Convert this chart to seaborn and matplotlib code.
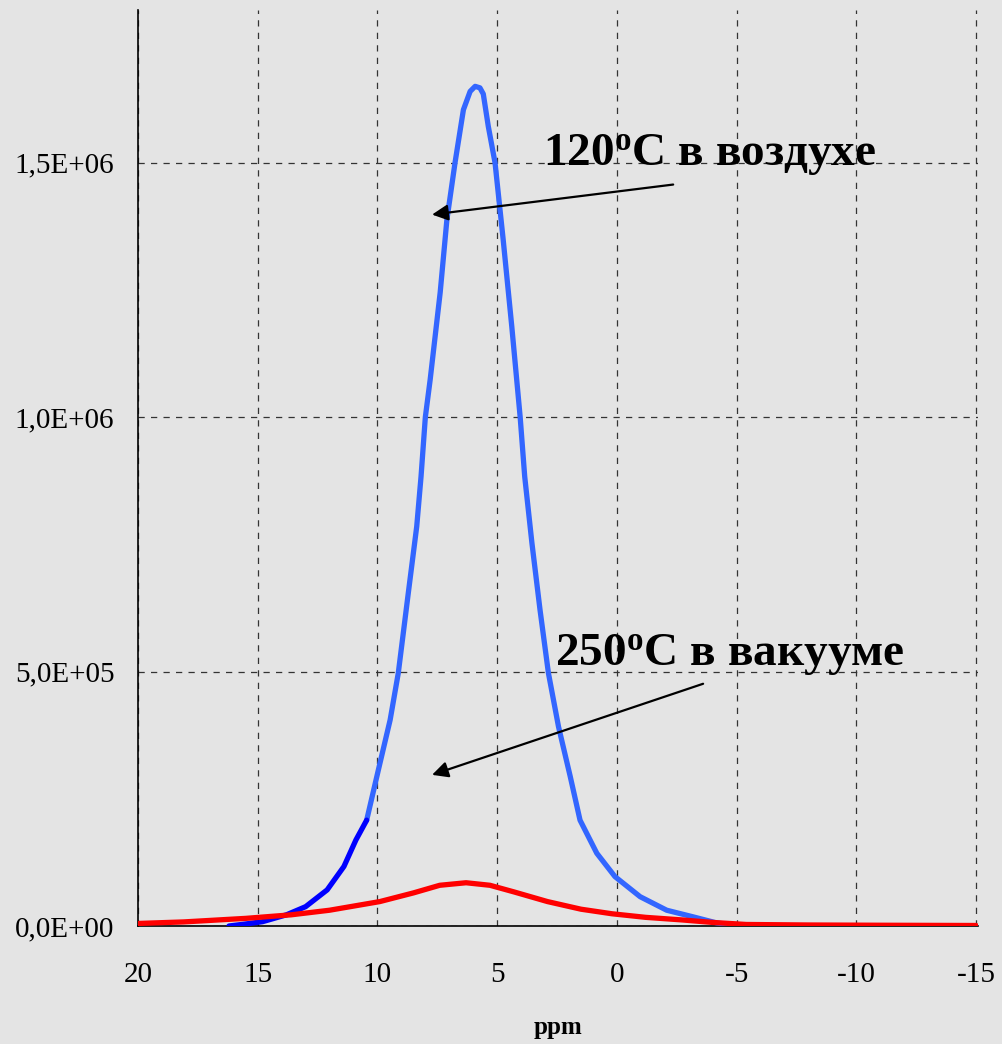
import matplotlib
matplotlib.use("Agg")
import matplotlib.pyplot as plt
import seaborn as sns
import pandas as pd

# ---- data ----
blue_dark_ppm = [16.2, 15.5, 14.8, 13.8, 13.0, 12.1, 11.4, 10.9, 10.45]
blue_dark_val = [0, 4e3, 8.5e3, 2.2e4, 3.8e4, 7.1e4, 1.17e5, 1.69e5, 2.08e5]

blue_ppm = [10.45, 9.96, 9.47, 9.13, 8.71, 8.36, 8.18, 8.0, 7.8, 7.38, 7.1, 6.76,
            6.41, 6.13, 5.92, 5.72, 5.58, 5.37, 5.09, 4.75, 4.39, 4.04, 3.85, 3.55,
            3.21, 2.86, 2.44, 1.95, 1.54, 0.84, 0.08, -0.97, -2.08, -3.18,
            -4.17, -5.15]
blue_val = [2.08e5, 3.07e5, 4.05e5, 4.97e5, 6.55e5, 7.85e5, 8.83e5, 1.0e6,
            1.073e6, 1.245e6, 1.388e6, 1.5e6, 1.604e6, 1.64e6, 1.65e6, 1.647e6,
            1.635e6, 1.571e6, 1.5e6, 1.349e6, 1.178e6, 1.0e6, 8.83e5, 7.53e5,
            6.21e5, 4.97e5, 3.92e5, 2.94e5, 2.08e5, 1.43e5, 9.7e4, 5.76e4, 3.1e4,
            1.8e4, 6e3, 0]

red_ppm = [20, 18.1, 15.5, 13.6, 12.0, 9.9, 8.5, 7.4, 6.3, 5.3, 4.3, 2.9, 1.5,
           0.2, -1.2, -2.7, -4.0, -5.4, -8.0, -11.0, -15.0]
red_val = [5e3, 8e3, 1.5e4, 2.2e4, 3.1e4, 4.8e4, 6.5e4, 8.0e4, 8.5e4, 8.0e4,
           6.7e4, 4.8e4, 3.3e4, 2.4e4, 1.7e4, 1.2e4, 7e3, 3e3, 2e3, 1.5e3, 1e3]

x_ticks = [20, 15, 10, 5, 0, -5, -10, -15]
x_ticklabels = ["20", "15", "10", "5", "0", "-5", "-10", "-15"]
y_ticks = [0, 5e5, 1e6, 1.5e6]
y_ticklabels = ["0,0E+00", "5,0E+05", "1,0E+06", "1,5E+06"]

label_air = "120$^{\\mathbf{o}}$C в воздухе"
label_vac = "250$^{\\mathbf{o}}$C в вакууме"
x_label = "ppm"

# ---- style ----
sns.set_style("white")
plt.rcParams["font.family"] = ["Liberation Serif", "DejaVu Serif"]
plt.rcParams["mathtext.fontset"] = "custom"
plt.rcParams["mathtext.rm"] = "Liberation Serif:bold"
plt.rcParams["mathtext.bf"] = "Liberation Serif:bold"
plt.rcParams["mathtext.it"] = "Liberation Serif:bold"
plt.rcParams["text.color"] = "black"
plt.rcParams["axes.labelcolor"] = "black"
plt.rcParams["xtick.color"] = "black"
plt.rcParams["ytick.color"] = "black"

bg = "#E4E4E4"
fig = plt.figure(figsize=(10.03, 10.44), dpi=100, facecolor=bg)
ax = fig.add_axes([138 / 1003, 118 / 1044, 840 / 1003, 916 / 1044])
ax.set_facecolor(bg)

df_bd = pd.DataFrame({"ppm": blue_dark_ppm, "val": blue_dark_val})
df_b = pd.DataFrame({"ppm": blue_ppm, "val": blue_val})
df_r = pd.DataFrame({"ppm": red_ppm, "val": red_val})

sns.lineplot(data=df_b, x="ppm", y="val", ax=ax, color="#3366FF", lw=3.8,
             sort=False, estimator=None, zorder=3)
sns.lineplot(data=df_bd, x="ppm", y="val", ax=ax, color="#0000FF", lw=3.8,
             sort=False, estimator=None, zorder=3)
sns.lineplot(data=df_r, x="ppm", y="val", ax=ax, color="#FF0000", lw=3.8,
             sort=False, estimator=None, zorder=4)

ax.set_xlim(20, -15.08)
ax.set_ylim(0, 1.8e6)
ax.set_xticks(x_ticks)
ax.set_xticklabels(x_ticklabels, fontsize=21)
ax.set_yticks(y_ticks)
ax.set_yticklabels(y_ticklabels, fontsize=21)
ax.tick_params(axis="x", length=0, pad=26, colors="black")
ax.tick_params(axis="y", length=0, pad=17, colors="black")
ax.set_xlabel(x_label, fontsize=18, fontweight="bold", labelpad=20, color="black")
ax.set_ylabel("")

ax.grid(True, color="#333333", lw=0.9, linestyle=(0, (5, 5)), zorder=1)
ax.set_axisbelow(True)
for s in ["top", "right"]:
    ax.spines[s].set_visible(False)
for s in ["left", "bottom"]:
    ax.spines[s].set_color("black")
    ax.spines[s].set_linewidth(1.2)
    ax.spines[s].set_zorder(2)

ax.text(3.08, 1.496e6, label_air, fontsize=34, fontweight="bold",
        ha="left", va="baseline", zorder=6, color="black")
ax.text(2.58, 5.13e5, label_vac, fontsize=34, fontweight="bold",
        ha="left", va="baseline", zorder=6, color="black")

arrow = dict(arrowstyle="-|>", color="black", lw=1.6, mutation_scale=24,
             shrinkA=0, shrinkB=0)
ax.annotate("", xy=(7.72, 1.398e6), xytext=(-2.35, 1.457e6),
            arrowprops=arrow, zorder=7)
ax.annotate("", xy=(7.72, 2.97e5), xytext=(-3.6, 4.76e5),
            arrowprops=arrow, zorder=7)

fig.savefig("out.png", dpi=100, facecolor=bg)
